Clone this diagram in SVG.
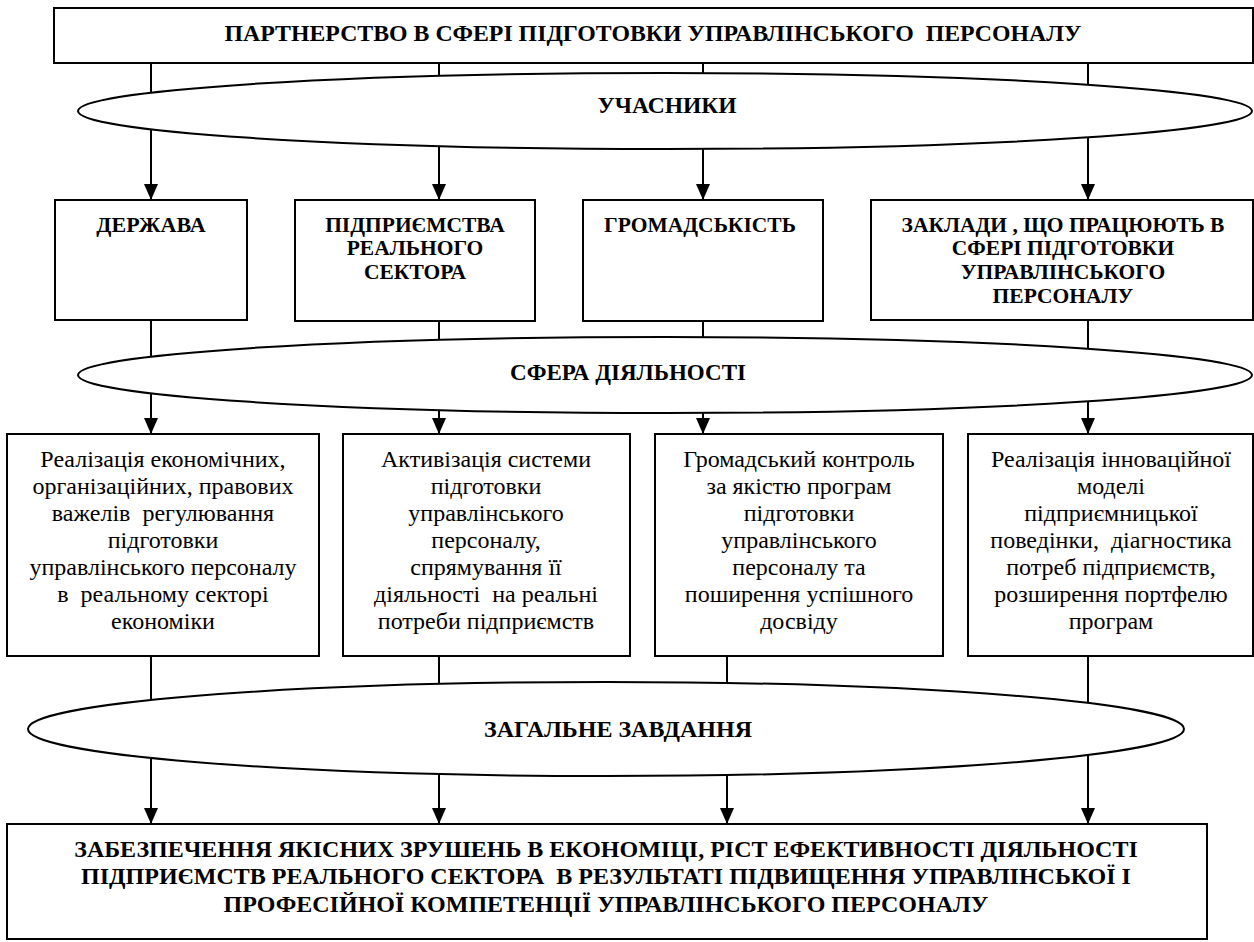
<svg xmlns="http://www.w3.org/2000/svg" width="1254" height="942" viewBox="0 0 1254 942" font-family="Liberation Serif">
<style>
.box{fill:#fff;stroke:#000;stroke-width:2}
.ell{fill:#fff;stroke:#000;stroke-width:2}
.c{stroke:#000;stroke-width:2;fill:none}
</style>
<defs>
<marker id="ah" viewBox="0 0 16 14" refX="16" refY="7" markerWidth="16" markerHeight="14" markerUnits="userSpaceOnUse" orient="auto">
<path d="M0,0 L16,7 L0,14 Z" fill="#000"/>
</marker>
</defs>
<rect width="1254" height="942" fill="#fff"/>
<g id="connectors">
<line class="c" x1="151" y1="63" x2="151" y2="200" marker-end="url(#ah)"/>
<line class="c" x1="439" y1="63" x2="439" y2="200" marker-end="url(#ah)"/>
<line class="c" x1="703" y1="63" x2="703" y2="200" marker-end="url(#ah)"/>
<line class="c" x1="1088" y1="63" x2="1088" y2="200" marker-end="url(#ah)"/>
<line class="c" x1="151" y1="320" x2="151" y2="434" marker-end="url(#ah)"/>
<line class="c" x1="439" y1="321" x2="439" y2="434" marker-end="url(#ah)"/>
<line class="c" x1="703" y1="321" x2="703" y2="434" marker-end="url(#ah)"/>
<line class="c" x1="1088" y1="320" x2="1088" y2="434" marker-end="url(#ah)"/>
<line class="c" x1="151" y1="656" x2="151" y2="824" marker-end="url(#ah)"/>
<line class="c" x1="439" y1="656" x2="439" y2="824" marker-end="url(#ah)"/>
<line class="c" x1="727" y1="656" x2="727" y2="824" marker-end="url(#ah)"/>
<line class="c" x1="1088" y1="656" x2="1088" y2="824" marker-end="url(#ah)"/>
</g>
<g id="partnership" font-weight="bold" font-size="23.8" text-anchor="middle">
<rect class="box" x="54" y="8" width="1199" height="55"/>
<text font-family="Liberation Serif" style="font-family:'Liberation Serif'" x="653" y="41" xml:space="preserve">ПАРТНЕРСТВО В СФЕРІ ПІДГОТОВКИ УПРАВЛІНСЬКОГО  ПЕРСОНАЛУ</text>
</g>
<g id="participants" font-weight="bold" font-size="23.5" text-anchor="middle">
<ellipse class="ell" cx="665" cy="111" rx="587" ry="38"/>
<text font-family="Liberation Serif" style="font-family:'Liberation Serif'" x="667" y="113">УЧАСНИКИ</text>
</g>
<g id="state" font-weight="bold" font-size="22" text-anchor="middle">
<rect class="box" x="55" y="200" width="192" height="120"/>
<text font-family="Liberation Serif" style="font-family:'Liberation Serif'" x="151" y="232">ДЕРЖАВА</text>
</g>
<g id="enterprises" font-weight="bold" font-size="21.5" text-anchor="middle">
<rect class="box" x="295" y="200" width="240" height="121"/>
<text font-family="Liberation Serif" style="font-family:'Liberation Serif'" x="415" y="232">ПІДПРИЄМСТВА</text>
<text font-family="Liberation Serif" style="font-family:'Liberation Serif'" x="415" y="255">РЕАЛЬНОГО</text>
<text font-family="Liberation Serif" style="font-family:'Liberation Serif'" x="415" y="279">СЕКТОРА</text>
</g>
<g id="public" font-weight="bold" font-size="21.5" text-anchor="middle">
<rect class="box" x="583" y="200" width="240" height="121"/>
<text font-family="Liberation Serif" style="font-family:'Liberation Serif'" x="700" y="232">ГРОМАДСЬКІСТЬ</text>
</g>
<g id="institutions" font-weight="bold" font-size="21.5" text-anchor="middle">
<rect class="box" x="871" y="200" width="382" height="120"/>
<text font-family="Liberation Serif" style="font-family:'Liberation Serif'" x="1063" y="232">ЗАКЛАДИ , ЩО ПРАЦЮЮТЬ В</text>
<text font-family="Liberation Serif" style="font-family:'Liberation Serif'" x="1063" y="255">СФЕРІ ПІДГОТОВКИ</text>
<text font-family="Liberation Serif" style="font-family:'Liberation Serif'" x="1063" y="279">УПРАВЛІНСЬКОГО</text>
<text font-family="Liberation Serif" style="font-family:'Liberation Serif'" x="1063" y="303">ПЕРСОНАЛУ</text>
</g>
<g id="activity" font-weight="bold" font-size="23" text-anchor="middle">
<ellipse class="ell" cx="665" cy="375" rx="587" ry="38"/>
<text font-family="Liberation Serif" style="font-family:'Liberation Serif'" x="628" y="380">СФЕРА ДІЯЛЬНОСТІ</text>
</g>
<g id="act1" font-size="24" text-anchor="middle">
<rect class="box" x="7" y="434" width="312" height="222"/>
<text font-family="Liberation Serif" style="font-family:'Liberation Serif'" x="163" y="467">Реалізація економічних,</text>
<text font-family="Liberation Serif" style="font-family:'Liberation Serif'" x="163" y="494">організаційних, правових</text>
<text font-family="Liberation Serif" style="font-family:'Liberation Serif'" x="163" y="521" xml:space="preserve">важелів  регулювання</text>
<text font-family="Liberation Serif" style="font-family:'Liberation Serif'" x="163" y="548">підготовки</text>
<text font-family="Liberation Serif" style="font-family:'Liberation Serif'" x="163" y="575">управлінського персоналу</text>
<text font-family="Liberation Serif" style="font-family:'Liberation Serif'" x="163" y="602" xml:space="preserve">в  реальному секторі</text>
<text font-family="Liberation Serif" style="font-family:'Liberation Serif'" x="163" y="629">економіки</text>
</g>
<g id="act2" font-size="24" text-anchor="middle">
<rect class="box" x="343" y="434" width="287" height="222"/>
<text font-family="Liberation Serif" style="font-family:'Liberation Serif'" x="486" y="467">Активізація системи</text>
<text font-family="Liberation Serif" style="font-family:'Liberation Serif'" x="486" y="494">підготовки</text>
<text font-family="Liberation Serif" style="font-family:'Liberation Serif'" x="486" y="521">управлінського</text>
<text font-family="Liberation Serif" style="font-family:'Liberation Serif'" x="486" y="548">персоналу,</text>
<text font-family="Liberation Serif" style="font-family:'Liberation Serif'" x="486" y="575">спрямування її</text>
<text font-family="Liberation Serif" style="font-family:'Liberation Serif'" x="486" y="602" xml:space="preserve">діяльності  на реальні</text>
<text font-family="Liberation Serif" style="font-family:'Liberation Serif'" x="486" y="629">потреби підприємств</text>
</g>
<g id="act3" font-size="24" text-anchor="middle">
<rect class="box" x="655" y="434" width="288" height="222"/>
<text font-family="Liberation Serif" style="font-family:'Liberation Serif'" x="799" y="467">Громадський контроль</text>
<text font-family="Liberation Serif" style="font-family:'Liberation Serif'" x="799" y="494">за якістю програм</text>
<text font-family="Liberation Serif" style="font-family:'Liberation Serif'" x="799" y="521">підготовки</text>
<text font-family="Liberation Serif" style="font-family:'Liberation Serif'" x="799" y="548">управлінського</text>
<text font-family="Liberation Serif" style="font-family:'Liberation Serif'" x="799" y="575">персоналу та</text>
<text font-family="Liberation Serif" style="font-family:'Liberation Serif'" x="799" y="602">поширення успішного</text>
<text font-family="Liberation Serif" style="font-family:'Liberation Serif'" x="799" y="629">досвіду</text>
</g>
<g id="act4" font-size="24" text-anchor="middle">
<rect class="box" x="968" y="434" width="285" height="222"/>
<text font-family="Liberation Serif" style="font-family:'Liberation Serif'" x="1111" y="467">Реалізація інноваційної</text>
<text font-family="Liberation Serif" style="font-family:'Liberation Serif'" x="1111" y="494">моделі</text>
<text font-family="Liberation Serif" style="font-family:'Liberation Serif'" x="1111" y="521">підприємницької</text>
<text font-family="Liberation Serif" style="font-family:'Liberation Serif'" x="1111" y="548" xml:space="preserve">поведінки,  діагностика</text>
<text font-family="Liberation Serif" style="font-family:'Liberation Serif'" x="1111" y="575">потреб підприємств,</text>
<text font-family="Liberation Serif" style="font-family:'Liberation Serif'" x="1111" y="602">розширення портфелю</text>
<text font-family="Liberation Serif" style="font-family:'Liberation Serif'" x="1111" y="629">програм</text>
</g>
<g id="common-task" font-weight="bold" font-size="24" text-anchor="middle">
<ellipse class="ell" cx="606" cy="729" rx="578" ry="47"/>
<text font-family="Liberation Serif" style="font-family:'Liberation Serif'" x="618" y="737">ЗАГАЛЬНЕ ЗАВДАННЯ</text>
</g>
<g id="result" font-weight="bold" font-size="24" text-anchor="middle">
<rect class="box" x="7" y="824" width="1200" height="115"/>
<text font-family="Liberation Serif" style="font-family:'Liberation Serif'" x="606" y="857">ЗАБЕЗПЕЧЕННЯ ЯКІСНИХ ЗРУШЕНЬ В ЕКОНОМІЦІ, РІСТ ЕФЕКТИВНОСТІ ДІЯЛЬНОСТІ</text>
<text font-family="Liberation Serif" style="font-family:'Liberation Serif'" x="606" y="884" xml:space="preserve">ПІДПРИЄМСТВ РЕАЛЬНОГО СЕКТОРА  В РЕЗУЛЬТАТІ ПІДВИЩЕННЯ УПРАВЛІНСЬКОЇ І</text>
<text font-family="Liberation Serif" style="font-family:'Liberation Serif'" x="606" y="912">ПРОФЕСІЙНОЇ КОМПЕТЕНЦІЇ УПРАВЛІНСЬКОГО ПЕРСОНАЛУ</text>
</g>
</svg>
